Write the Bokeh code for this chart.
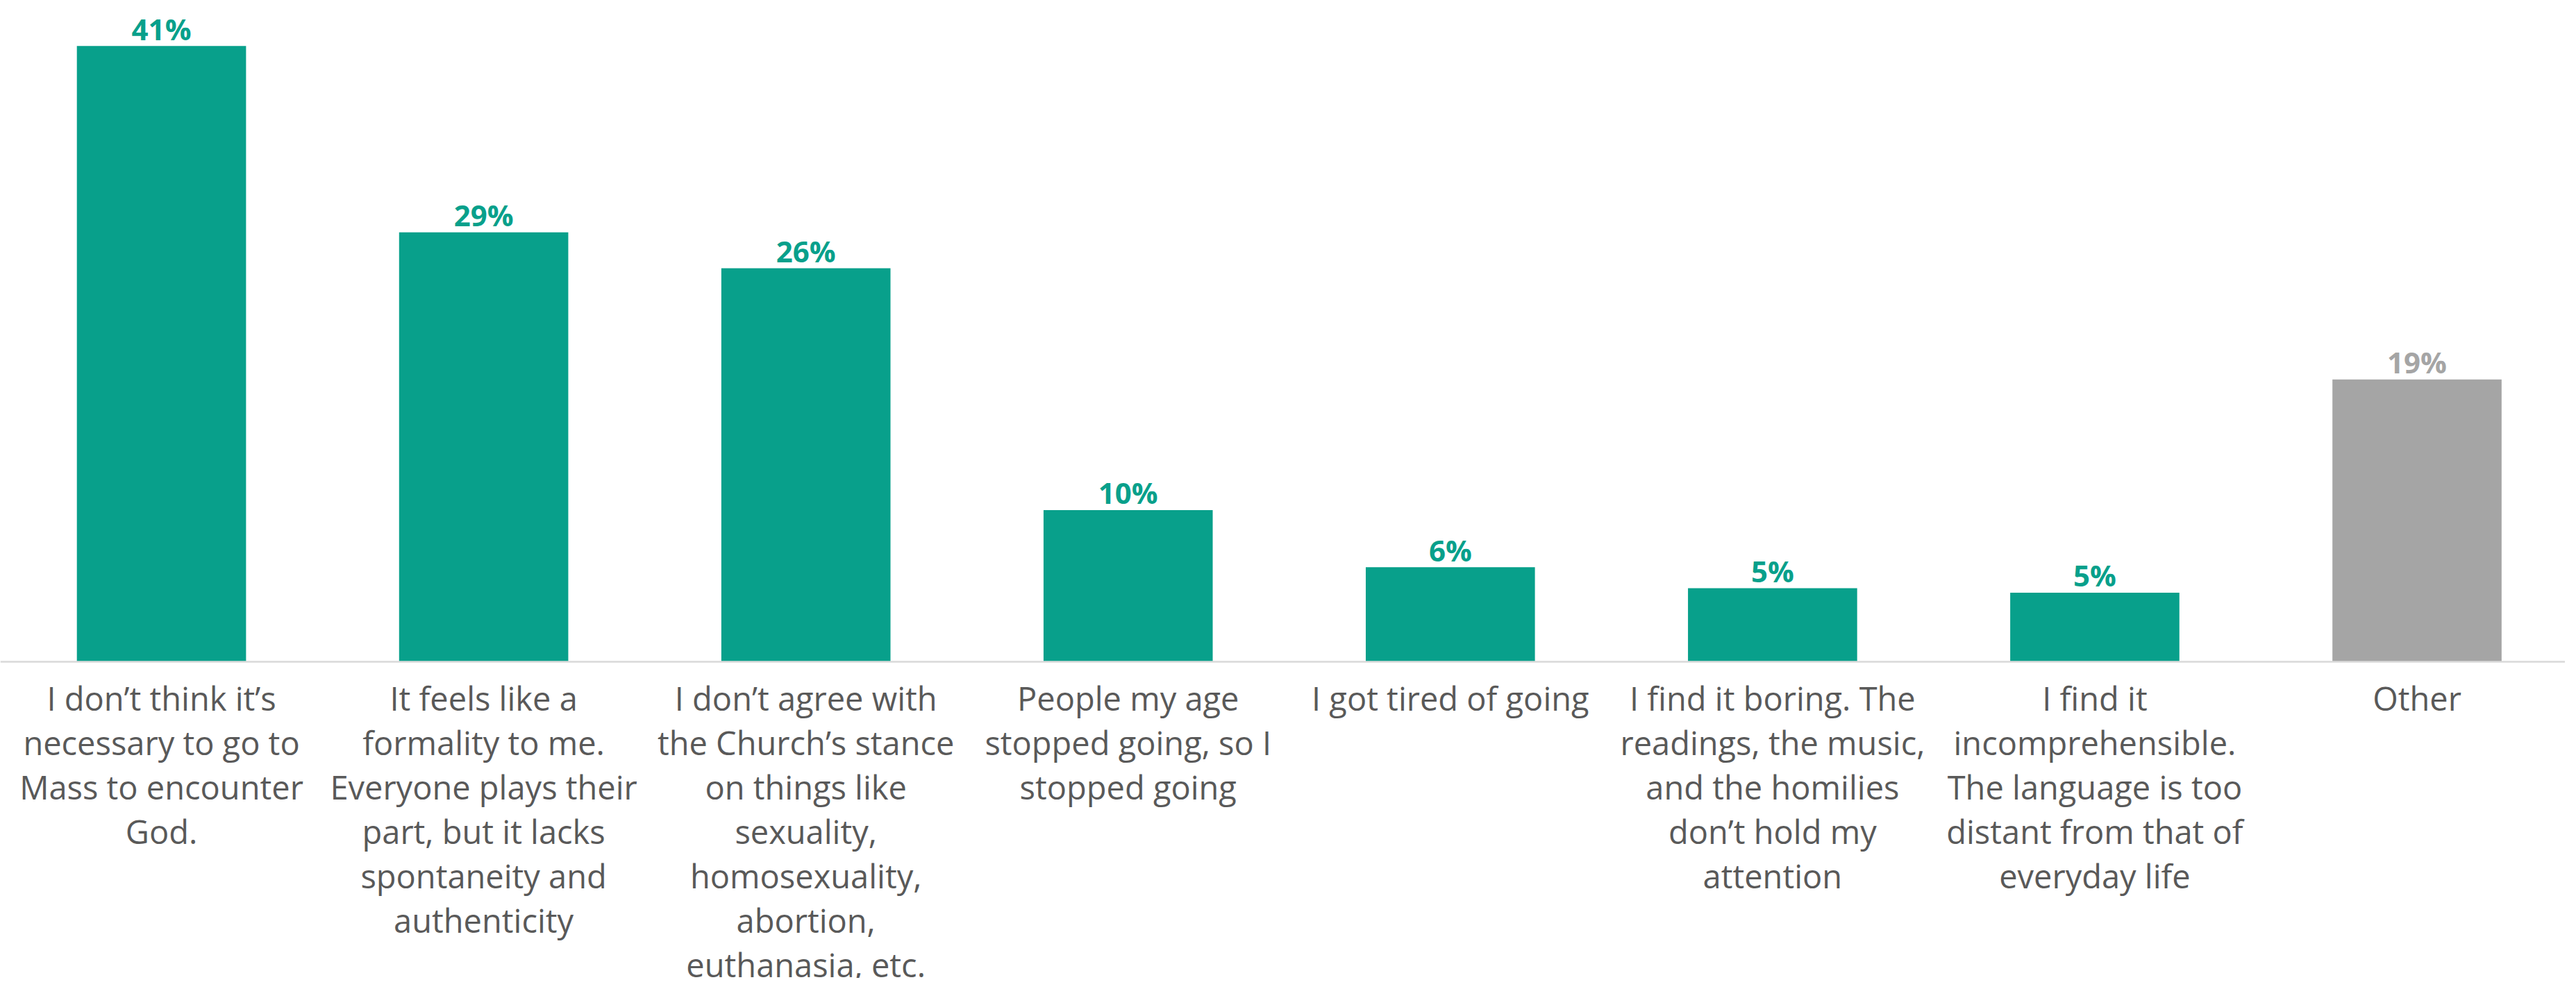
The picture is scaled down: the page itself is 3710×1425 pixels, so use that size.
import numpy as np
from bokeh.plotting import figure
from bokeh.models import ColumnDataSource, Range1d, Span
from bokeh.core.properties import value
from bokeh.embed import file_html
from bokeh.resources import INLINE

# ---- data ----
categories = [
    "I don’t think it’s\nnecessary to go to\nMass to encounter\nGod.",
    "It feels like a\nformality to me.\nEveryone plays their\npart, but it lacks\nspontaneity and\nauthenticity",
    "I don’t agree with\nthe Church’s stance\non things like\nsexuality,\nhomosexuality,\nabortion,\neuthanasia, etc.",
    "People my age\nstopped going, so I\nstopped going",
    "I got tired of going",
    "I find it boring. The\nreadings, the music,\nand the homilies\ndon’t hold my\nattention",
    "I find it\nincomprehensible.\nThe language is too\ndistant from that of\neveryday life",
    "Other",
]
values = [41.0, 28.6, 26.2, 10.1, 6.3, 4.9, 4.6, 18.8]
value_labels = ["41%", "29%", "26%", "10%", "6%", "5%", "5%", "19%"]

# ---- style ----
TEAL = "#08A08B"
GREY = "#A5A5A5"
bar_colors = [GREY if c == "Other" else TEAL for c in categories]

xpos = np.arange(len(categories))
src = ColumnDataSource(dict(
    x=xpos, top=values, cat=categories, lab=value_labels, color=bar_colors,
    zero=[0] * len(categories),
))

W, H = 3694, 1409
p = figure(width=W, height=H, output_backend="svg", toolbar_location=None,
           x_range=Range1d(-0.5, 7.46), y_range=Range1d(-21.07, 44.04),
           x_axis_type=None, y_axis_type=None, min_border=0)
p.outline_line_color = None
p.grid.visible = False
p.background_fill_color = "white"
p.border_fill_color = "white"

p.vbar(x="x", top="top", bottom=0, width=0.525, source=src,
       fill_color="color", line_color=None)

# baseline axis line
p.add_layout(Span(location=0, dimension="width", line_color="#D9D9D9", line_width=2.5))

# value labels
p.text(x="x", y="top", text="lab", source=src, text_color="color",
       text_font=value("Open Sans"), text_font_style="bold",
       text_font_size="42px", text_align="center", text_baseline="alphabetic",
       y_offset=-25)

# category labels
p.text(x="x", y="zero", text="cat", source=src, text_color="#595959",
       text_font=value("Open Sans"), text_font_size="47px",
       text_align="center", text_baseline="top", text_line_height=1.0,
       y_offset=20)

open("out.html", "w").write(file_html(p, INLINE))
